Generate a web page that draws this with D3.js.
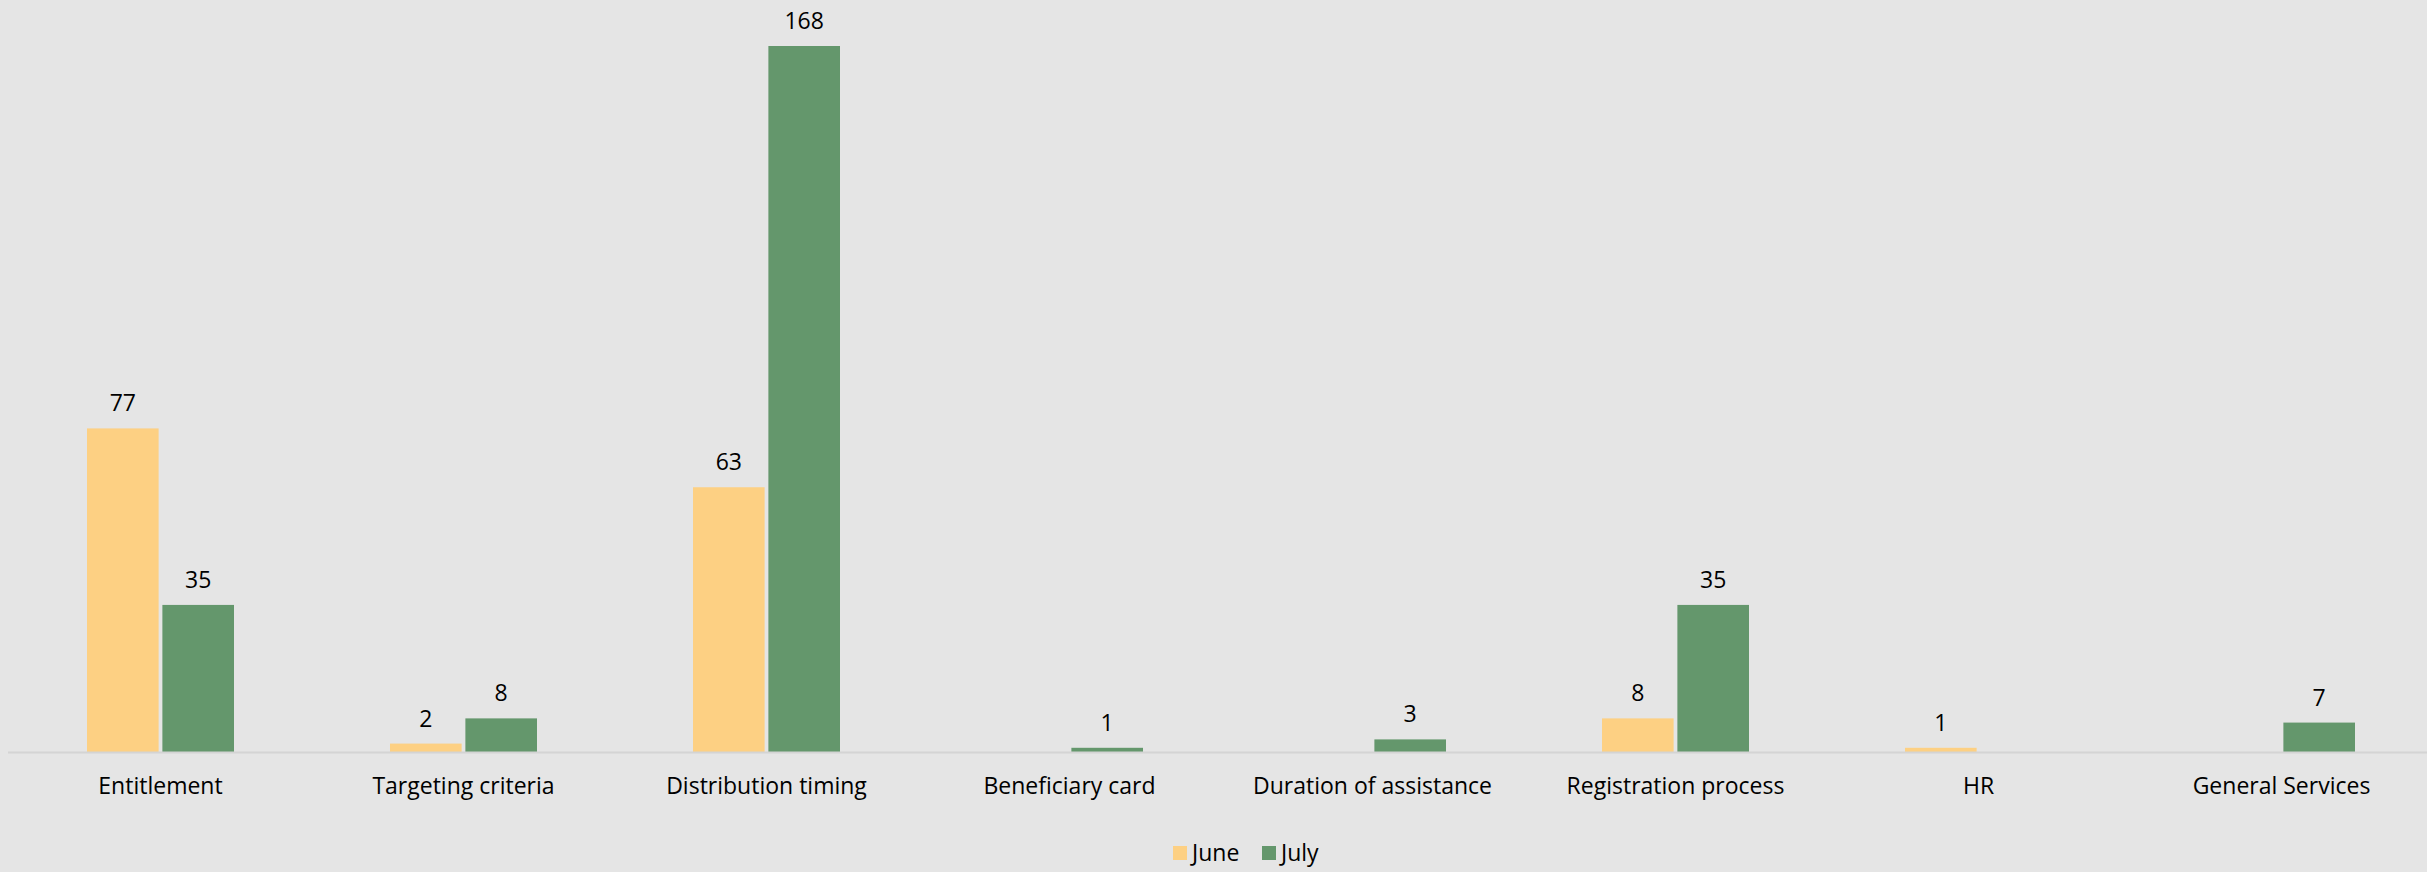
<!DOCTYPE html>
<html>
<head>
<meta charset="utf-8">
<script src="https://cdn.jsdelivr.net/npm/d3@7"></script>
<style>
  html, body { margin: 0; padding: 0; background: #e5e5e5; }
  svg { display: block; }
</style>
</head>
<body>
<svg id="chart" width="2427" height="872"></svg>
<script>
// Complaint categories and monthly counts
const categories = ["Entitlement", "Targeting criteria", "Distribution timing", "Beneficiary card",
  "Duration of assistance", "Registration process", "HR", "General Services"];
const series = ["June", "July"];
const june = [77, 2, 63, 0, 0, 8, 1, 0];
const july = [35, 8, 168, 1, 3, 35, 0, 7];
const colors = ["#fdd083", "#64976c"];

const W = 2427, H = 872;
const svg = d3.select("#chart");
const FONT = "'Open Sans', 'Noto Sans', sans-serif";

svg.append("rect").attr("width", W).attr("height", H).attr("fill", "#e5e5e5");

const baseY = 752, topY = 46;
const x0 = d3.scaleBand().domain(categories).range([9, 2433]).paddingInner(0).paddingOuter(0);
const groupPad = 78;
const x1 = d3.scaleBand().domain(series)
  .range([groupPad, x0.bandwidth() - groupPad]).paddingInner(0.05);
const y = d3.scaleLinear().domain([0, 168]).range([baseY, topY]);

const rows = categories.map((c, i) => ({ cat: c, vals: [june[i], july[i]] }));

const g = svg.append("g");
const groups = g.selectAll("g.cat").data(rows).join("g")
  .attr("class", "cat")
  .attr("transform", d => `translate(${x0(d.cat)},0)`);

const cells = groups.selectAll("g.bar")
  .data(d => d.vals.map((v, k) => ({ key: series[k], v, k })))
  .join("g").attr("class", "bar");

cells.filter(d => d.v > 0).append("rect")
  .attr("x", d => x1(d.key))
  .attr("width", x1.bandwidth())
  .attr("y", d => y(d.v))
  .attr("height", d => y(0) - y(d.v))
  .attr("fill", d => colors[d.k]);

cells.filter(d => d.v > 0).append("text")
  .attr("x", d => x1(d.key) + x1.bandwidth() / 2)
  .attr("y", d => y(d.v) - 17)
  .attr("text-anchor", "middle")
  .attr("font-family", FONT)
  .attr("font-size", 23)
  .attr("fill", "#000")
  .text(d => d.v);

// category axis
const axis = d3.axisBottom(x0).tickSize(0).tickPadding(26);
const axG = svg.append("g").attr("transform", `translate(0,${baseY})`).call(axis);
axG.select(".domain").attr("stroke", "#d4d4d4").attr("stroke-width", 2)
  .attr("d", `M8,0.5H2427`);
axG.selectAll("text").attr("font-family", FONT).attr("font-size", 23).attr("fill", "#000");

// legend
const legend = svg.append("g").attr("transform", "translate(0,853)");
const legendItems = [
  { name: "June", x: 1173 },
  { name: "July", x: 1262 }
];
legendItems.forEach((it, k) => {
  legend.append("rect").attr("x", it.x).attr("y", -7).attr("width", 14).attr("height", 14)
    .attr("fill", colors[k]);
  legend.append("text").attr("x", it.x + 19).attr("y", 0).attr("dy", "0.36em")
    .attr("font-family", FONT).attr("font-size", 23).attr("fill", "#000").text(it.name);
});
</script>
</body>
</html>
